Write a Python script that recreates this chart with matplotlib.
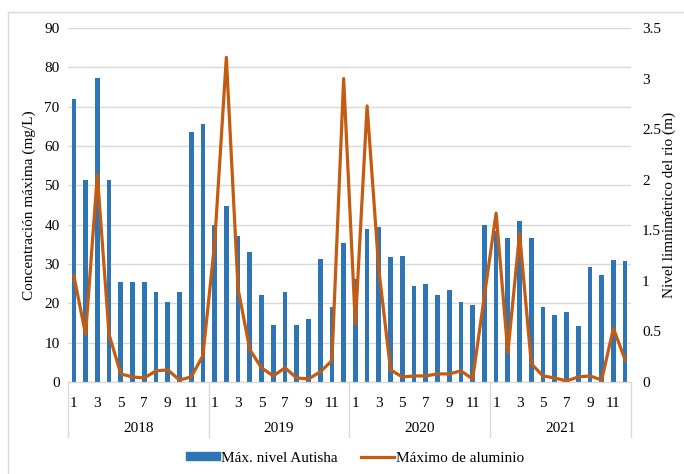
import numpy as np
import matplotlib
matplotlib.use('Agg')
import matplotlib.pyplot as plt
from matplotlib.patches import Rectangle
from matplotlib.lines import Line2D

plt.rcParams['font.family'] = ['Liberation Serif', 'DejaVu Serif']

years = ['2018', '2019', '2020', '2021']
months = list(range(1, 13))

# Máx. nivel Autisha (left axis scale)
nivel = [72, 51.4, 77.2, 51.4, 25.5, 25.5, 25.5, 23, 20.3, 23, 63.5, 65.5,
         40, 44.8, 37, 33, 22.2, 14.6, 23, 14.6, 16.1, 31.2, 19.1, 35.3,
         26.2, 38.9, 39.3, 31.7, 32.1, 24.5, 25, 22.2, 23.3, 20.4, 19.6, 39.8,
         38.5, 36.6, 41, 36.6, 19.1, 17.1, 17.7, 14.3, 29.3, 27.2, 31, 30.8]

# Máximo de aluminio (right axis scale)
aluminio = [1.05, 0.47, 2.05, 0.47, 0.08, 0.05, 0.04, 0.11, 0.12, 0.02, 0.05, 0.26,
            1.37, 3.21, 0.92, 0.32, 0.14, 0.06, 0.14, 0.04, 0.03, 0.10, 0.21, 3.0,
            0.57, 2.73, 1.11, 0.12, 0.05, 0.06, 0.06, 0.08, 0.08, 0.11, 0.03, 0.85,
            1.67, 0.29, 1.47, 0.18, 0.06, 0.04, 0.01, 0.05, 0.06, 0.02, 0.53, 0.22]

blue = '#2E75B6'
orange = '#C55A11'
grid_c = '#D9D9D9'

fig = plt.figure(figsize=(6.84, 4.74), dpi=100)
fig.patches.append(Rectangle((8/684, -0.1), 1.0, (474-12)/474 + 0.1, transform=fig.transFigure,
                             fill=False, edgecolor='#D9D9D9', lw=1))
ax = fig.add_axes([68/684, (474-382)/474, (631-68)/684, (382-28)/474])
ax2 = ax.twinx()

x = np.arange(len(nivel))
ax.bar(x, nivel, width=0.4, color=blue, zorder=2)
ax2.plot(x, aluminio, color=orange, lw=2.3, zorder=3)

ax.set_xlim(-0.5, len(nivel) - 0.5)
ax.set_ylim(0, 90)
ax.set_yticks(np.arange(0, 91, 10))
ax2.set_ylim(0, 3.5)
ax2.set_yticks(np.arange(0, 3.51, 0.5))
ax2.set_yticklabels(['0', '0.5', '1', '1.5', '2', '2.5', '3', '3.5'])

ax.grid(axis='y', color=grid_c, lw=1, zorder=0)
ax.set_axisbelow(True)
for a in (ax, ax2):
    for s in ('top', 'left', 'right'):
        a.spines[s].set_visible(False)
    a.spines['bottom'].set_color(grid_c)
    a.tick_params(axis='y', length=0, labelsize=11, colors='#404040', labelcolor='black')
ax.tick_params(axis='y', pad=6)
ax2.tick_params(axis='y', pad=8)

labels = [str(m) if m % 2 == 1 else '' for y in years for m in months]
ax.set_xticks(x)
ax.set_xticklabels(labels, fontsize=11)
ax.tick_params(axis='x', length=0, pad=11)

# year labels and separators
trans = ax.get_xaxis_transform()
for i, yr in enumerate(years):
    ax.text(i * 12 + 5.5, -0.132, yr, transform=trans, ha='center', va='center', fontsize=11)
for i in range(len(years) + 1):
    ax.plot([i * 12 - 0.5] * 2, [0, -0.156], transform=trans, color=grid_c, lw=1, clip_on=False)

ax.set_ylabel('Concentración máxima (mg/L)', fontsize=11, labelpad=6)
ax2.set_ylabel('Nivel limnimétrico del rio (m)', fontsize=11, labelpad=1)

handles = [Rectangle((0, 0), 1, 1, color=blue), Line2D([0], [0], color=orange, lw=2.3)]
fig.legend(handles, ['Máx. nivel Autisha', 'Máximo de aluminio'], loc='center',
           bbox_to_anchor=(355/684, 1 - 458/474), ncol=2, frameon=False, fontsize=11,
           handlelength=2.2, handleheight=0.5, columnspacing=1.5, handletextpad=0.1)

fig.savefig('out.png', dpi=100)
